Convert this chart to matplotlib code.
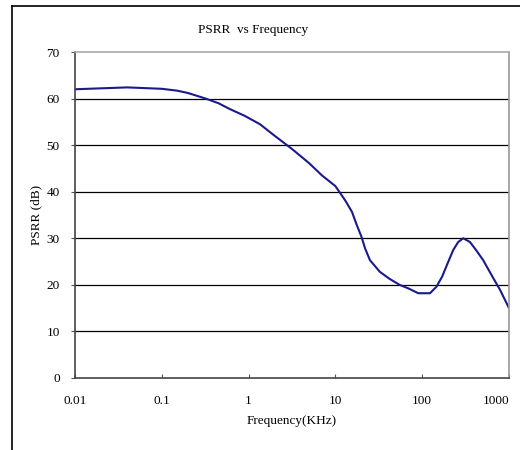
import matplotlib
matplotlib.use("Agg")
import matplotlib.pyplot as plt
from matplotlib.lines import Line2D

# PSRR curve
freq_khz = [0.01, 0.02, 0.04, 0.1, 0.15, 0.2, 0.32, 0.45, 0.6, 0.9, 1.35, 2,
            3.2, 5, 7, 10, 12.9, 15.5, 17.5, 20, 22, 25, 32.5, 42, 55, 70, 90,
            123, 146, 170, 192, 228, 260, 297, 355, 420, 504, 661, 790, 1000]
psrr_db = [62.0, 62.2, 62.4, 62.1, 61.7, 61.2, 60.0, 59.0, 57.8, 56.3, 54.5,
           52.0, 49.1, 46.1, 43.5, 41.2, 38.2, 35.7, 33.0, 30.3, 27.8, 25.3,
           22.8, 21.3, 20.0, 19.2, 18.2, 18.2, 19.6, 21.8, 24.2, 27.5, 29.2,
           30.0, 29.2, 27.4, 25.3, 21.4, 18.9, 15.0]

x_ticks = [0.01, 0.1, 1, 10, 100, 1000]
x_labels = ["0.01", "0.1", "1", "10", "100", "1000"]
y_ticks = [0, 10, 20, 30, 40, 50, 60, 70]

font = "Liberation Serif"
fs = 9.5

fig = plt.figure(figsize=(5.2, 4.5), dpi=100)
ax = fig.add_axes([75 / 520, 1 - 378 / 450, (509 - 75) / 520, (378 - 52) / 450])

ax.plot(freq_khz, psrr_db, color="#1a1a8c", lw=1.5)
ax.set_xscale("log")
ax.set_xlim(0.01, 1000)
ax.set_ylim(0, 70)

for v in y_ticks[1:-1]:
    ax.axhline(v, color="black", lw=0.9, zorder=0)

ax.set_xticks(x_ticks)
ax.set_xticklabels(x_labels, fontfamily=font, fontsize=fs)
ax.get_xticklabels()[-1].set_horizontalalignment("right")
ax.xaxis.set_minor_locator(matplotlib.ticker.NullLocator())
ax.set_yticks(y_ticks)
ax.set_yticklabels([str(v) for v in y_ticks], fontfamily=font, fontsize=fs)
ax.tick_params(axis="x", direction="in", length=3, pad=12, color="#555555")
ax.tick_params(axis="y", direction="out", length=3, pad=8, color="#555555")

ax.spines["left"].set_color("#444444")
ax.spines["bottom"].set_color("#444444")
ax.spines["top"].set_color("#aaaaaa")
ax.spines["right"].set_color("#999999")
for s in ax.spines.values():
    s.set_linewidth(1.2)

ax.set_xlabel("Frequency(KHz)", fontfamily=font, fontsize=fs, labelpad=6)
ax.set_ylabel("PSRR (dB)", fontfamily=font, fontsize=fs, labelpad=3)
fig.text(253 / 520, 1 - 30 / 450, "PSRR  vs Frequency", ha="center", va="center",
         fontfamily=font, fontsize=fs)

# outer chart frame (left and top edges)
fig.add_artist(Line2D([12 / 520, 12 / 520], [0, 1 - 6 / 450], color="black", lw=1.2))
fig.add_artist(Line2D([12 / 520, 1], [1 - 6 / 450, 1 - 6 / 450], color="black", lw=1.2))

fig.savefig("out.png", dpi=100)
